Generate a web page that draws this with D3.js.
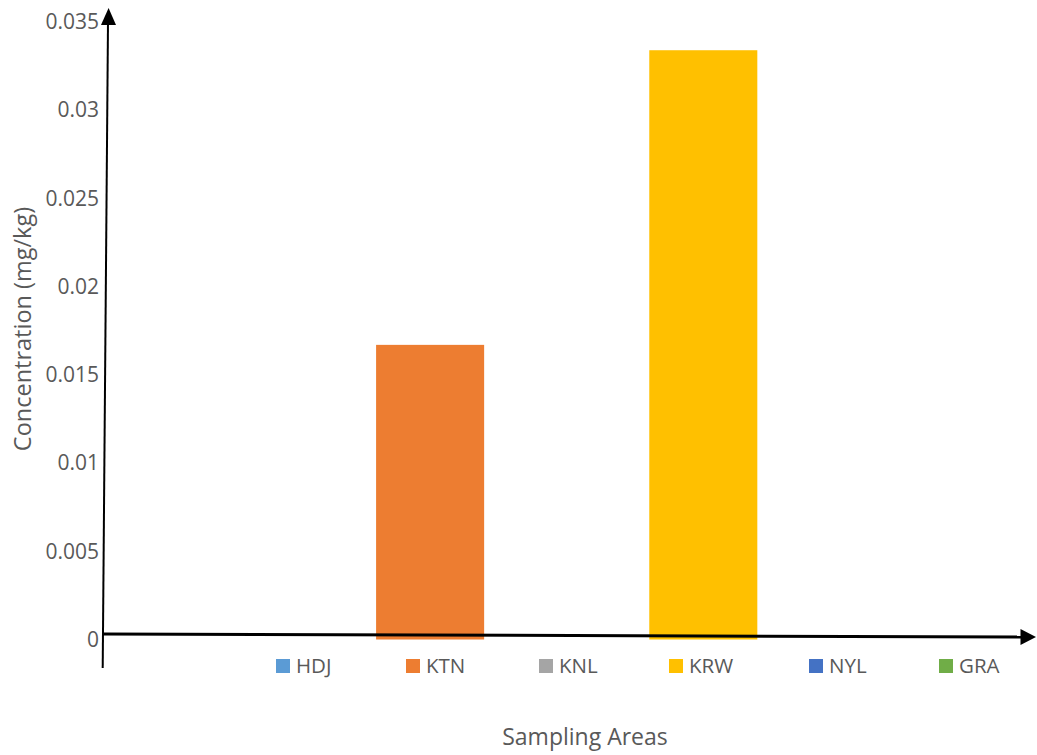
<!DOCTYPE html>
<html>
<head>
<meta charset="utf-8">
<script src="https://cdn.jsdelivr.net/npm/d3@7"></script>
<style>
  html, body { margin: 0; padding: 0; background: #fff; }
  svg { display: block; font-family: "Open Sans", "Noto Sans", sans-serif; }
</style>
</head>
<body>
<svg id="chart" width="1037" height="755"></svg>
<script>
// Sampling areas (one series each) and measured concentrations (mg/kg)
const areas = ["HDJ", "KTN", "KNL", "KRW", "NYL", "GRA"];
const concentrations = [0, 0.0167, 0, 0.0334, 0, 0];
const colors = ["#5B9BD5", "#ED7D31", "#A5A5A5", "#FFC000", "#4472C4", "#70AD47"];
const yTicks = [0, 0.005, 0.01, 0.015, 0.02, 0.025, 0.03, 0.035];

const svg = d3.select("#chart");
const textColor = "#595959";

const y = d3.scaleLinear().domain([0, 0.035]).range([639.5, 22]);
const x = d3.scaleBand().domain(areas).range([239.5, 1030.5])
  .paddingInner(0.209).paddingOuter(0);

// Bars
svg.append("g").selectAll("rect")
  .data(areas.map((a, i) => ({ area: a, value: concentrations[i], color: colors[i] })))
  .join("rect")
  .attr("x", d => x(d.area))
  .attr("width", x.bandwidth())
  .attr("y", d => y(d.value))
  .attr("height", d => y(0) - y(d.value))
  .attr("fill", d => d.color);

// Y tick labels (no tick lines, no gridlines)
const yAxis = d3.axisLeft(y).tickValues(yTicks).tickSize(0).tickPadding(0)
  .tickFormat(d => d === 0 ? "0" : String(+d.toFixed(3)));
const gy = svg.append("g").attr("transform", "translate(99,0)").call(yAxis);
gy.select(".domain").remove();
gy.selectAll("text")
  .attr("fill", textColor)
  .style("font-size", "21px")
  .style("font-family", "'Open Sans', 'Noto Sans', sans-serif");

// Hand-drawn style axes with arrowheads
svg.append("line")
  .attr("x1", 102.7).attr("y1", 668).attr("x2", 108).attr("y2", 22)
  .attr("stroke", "#000").attr("stroke-width", 2);
svg.append("path")
  .attr("d", "M108.6,8 L116,25 L101,25 Z")
  .attr("fill", "#000");

svg.append("line")
  .attr("x1", 103).attr("y1", 634).attr("x2", 1022).attr("y2", 637)
  .attr("stroke", "#000").attr("stroke-width", 3);
svg.append("path")
  .attr("d", "M1036,637 L1020.5,629 L1020.5,645 Z")
  .attr("fill", "#000");

// Legend
const legendX = [276, 406, 539, 669, 809, 939];
const legend = svg.append("g").selectAll("g")
  .data(areas)
  .join("g")
  .attr("transform", (d, i) => `translate(${legendX[i]},659)`);
legend.append("rect")
  .attr("width", 14).attr("height", 14)
  .attr("fill", (d, i) => colors[i]);
legend.append("text")
  .attr("x", 20).attr("y", 7).attr("dy", "0.35em")
  .attr("fill", textColor)
  .style("font-size", "20.5px")
  .text(d => d);

// Axis titles
svg.append("text")
  .attr("x", 585).attr("y", 737).attr("dy", "0.35em")
  .attr("text-anchor", "middle")
  .attr("fill", textColor)
  .style("font-size", "23px")
  .text("Sampling Areas");

svg.append("text")
  .attr("transform", "translate(23,329) rotate(-90)")
  .attr("dy", "0.35em")
  .attr("text-anchor", "middle")
  .attr("fill", textColor)
  .style("font-size", "23.5px")
  .text("Concentration (mg/kg)");
</script>
</body>
</html>
